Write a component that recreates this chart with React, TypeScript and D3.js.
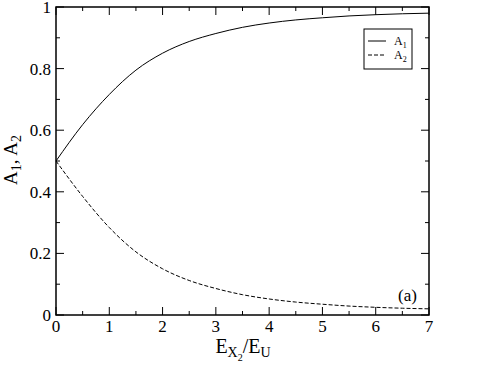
import React, { useEffect, useRef } from 'react';
import * as d3 from 'd3';

// values
const ratio = [0, 0.5, 1, 1.5, 2, 2.5, 3, 3.5, 4, 4.5, 5, 5.5, 6, 6.5, 7];
const a1 = [0.5, 0.618, 0.716, 0.795, 0.85, 0.888, 0.914, 0.934, 0.948, 0.958, 0.965, 0.971, 0.975, 0.978, 0.98];
const a2 = [0.5, 0.385, 0.284, 0.205, 0.15, 0.112, 0.086, 0.066, 0.052, 0.042, 0.035, 0.029, 0.025, 0.022, 0.02];
const xTicks = [0, 1, 2, 3, 4, 5, 6, 7];
const yTicks = [0, 0.2, 0.4, 0.6, 0.8, 1];
const yTickLabels = ['0', '0.2', '0.4', '0.6', '0.8', '1'];

const App = () => {
    const ref = useRef<SVGSVGElement>(null);

    useEffect(() => {
        const svg = d3.select(ref.current);
        svg.selectAll('*').remove();

        const left = 56, right = 429, top = 7, bottom = 315;
        const x = d3.scaleLinear().domain([0, 7]).range([left, right]);
        const y = d3.scaleLinear().domain([0, 1]).range([bottom, top]);

        // frame
        svg.append('rect')
            .attr('x', left).attr('y', top)
            .attr('width', right - left).attr('height', bottom - top)
            .attr('fill', 'none').attr('stroke', '#000').attr('stroke-width', 1.5);

        // ticks, all pointing inwards, mirrored on top / right
        const xMinor = d3.range(0, 7.01, 0.5);
        xMinor.forEach(v => {
            const len = Math.abs(v % 1) < 1e-6 ? 8 : 4;
            svg.append('line').attr('x1', x(v)).attr('x2', x(v)).attr('y1', bottom).attr('y2', bottom - len)
                .attr('stroke', '#000');
            svg.append('line').attr('x1', x(v)).attr('x2', x(v)).attr('y1', top).attr('y2', top + len)
                .attr('stroke', '#000');
        });
        const yMinor = d3.range(0, 1.001, 0.1);
        yMinor.forEach((v, i) => {
            const len = i % 2 === 0 ? 8 : 4;
            svg.append('line').attr('x1', left).attr('x2', left + len).attr('y1', y(v)).attr('y2', y(v))
                .attr('stroke', '#000');
            svg.append('line').attr('x1', right).attr('x2', right - len).attr('y1', y(v)).attr('y2', y(v))
                .attr('stroke', '#000');
        });

        const g = svg.append('g').attr('font-family', 'Liberation Serif').attr('fill', '#000');

        // tick labels
        g.selectAll('.xt').data(xTicks).enter().append('text')
            .attr('x', d => x(d)).attr('y', 332)
            .attr('text-anchor', 'middle')
            .attr('font-size', 17)
            .text(d => d);
        g.selectAll('.yt').data(yTicks).enter().append('text')
            .attr('x', 51).attr('y', d => y(d) + 6)
            .attr('text-anchor', 'end')
            .attr('font-size', 17)
            .text((d, i) => yTickLabels[i]);

        // curves
        const line = d3.line<number>()
            .x((d, i) => x(ratio[i]))
            .y(d => y(d))
            .curve(d3.curveMonotoneX);
        svg.append('path').attr('d', line(a1)).attr('fill', 'none').attr('stroke', '#000').attr('stroke-width', 1);
        svg.append('path').attr('d', line(a2)).attr('fill', 'none').attr('stroke', '#000').attr('stroke-width', 1)
            .attr('stroke-dasharray', '4,2');

        // legend
        svg.append('rect').attr('x', 364).attr('y', 29).attr('width', 48).attr('height', 40)
            .attr('fill', '#fff').attr('stroke', '#000').attr('stroke-width', 1);
        svg.append('line').attr('x1', 368).attr('x2', 386).attr('y1', 41).attr('y2', 41).attr('stroke', '#000');
        svg.append('line').attr('x1', 368).attr('x2', 386).attr('y1', 55).attr('y2', 55).attr('stroke', '#000')
            .attr('stroke-dasharray', '4,2');
        const lg = svg.append('g').attr('font-family', 'Liberation Serif');
        const leg = (ty: number, sub: string) => {
            const t = lg.append('text').attr('x', 394).attr('y', ty).attr('font-size', 12);
            t.append('tspan').text('A');
            t.append('tspan').attr('dy', 3).attr('font-size', 8).text(sub);
        };
        leg(45, '1');
        leg(59, '2');

        // panel label
        g.append('text').attr('x', 398).attr('y', 301).attr('font-size', 17).text('(a)');

        // axis titles
        const xl = g.append('text').attr('x', 243).attr('y', 353).attr('text-anchor', 'middle')
            .attr('font-size', 20);
        xl.append('tspan').text('E');
        xl.append('tspan').attr('dy', 4).attr('font-size', 14).text('X');
        xl.append('tspan').attr('dy', 4).attr('font-size', 10).text('2');
        xl.append('tspan').attr('dy', -8).text('/E');
        xl.append('tspan').attr('dy', 4).attr('font-size', 14).text('U');

        const yl = g.append('text').attr('transform', 'translate(17,160) rotate(-90)').attr('text-anchor', 'middle')
            .attr('font-size', 19);
        yl.append('tspan').text('A');
        yl.append('tspan').attr('dy', 4).attr('font-size', 14).text('1');
        yl.append('tspan').attr('dy', -4).text(', A');
        yl.append('tspan').attr('dy', 4).attr('font-size', 14).text('2');
    }, []);

    return <svg ref={ref} width={485} height={365} style={{ position: 'absolute', left: 0, top: 0 }}></svg>;
};

export default App;
